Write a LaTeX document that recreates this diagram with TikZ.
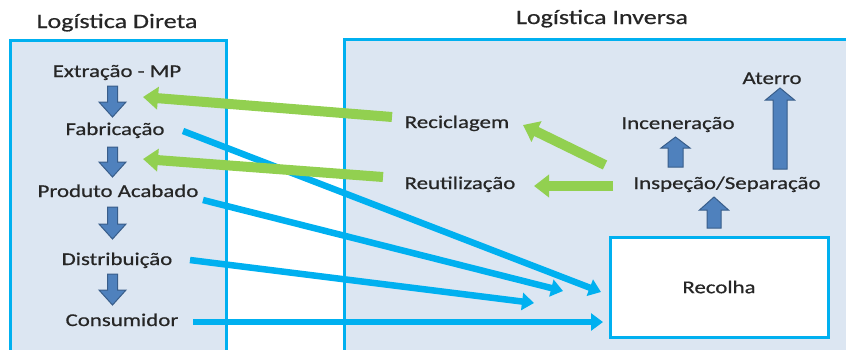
\documentclass[tikz,border=0pt]{standalone}
\usepackage{fontspec}
\newfontfamily\lab{Carlito}[FakeStretch=1.27, FakeBold=0.6]
\usetikzlibrary{arrows.meta}

\definecolor{boxfill}{HTML}{DCE6F2}
\definecolor{cyanline}{HTML}{00B0F0}
\definecolor{greenline}{HTML}{92D050}
\definecolor{blkfill}{HTML}{4F81BD}
\definecolor{blkdraw}{HTML}{385D8A}
\definecolor{txt}{HTML}{262626}

% block arrow pointing down: x, top, bottom
\newcommand\downblk[3]{\draw[blk] ({#1-5},#2) -- ({#1+5},#2) -- ({#1+5},{#3-15}) -- ({#1+13.5},{#3-15}) -- (#1,#3) -- ({#1-13.5},{#3-15}) -- ({#1-5},{#3-15}) -- cycle;}
% block arrow pointing up: x, bottom, top, shaft half width, head length
\newcommand\upblk[5]{\draw[blk] ({#1-#4},#2) -- ({#1+#4},#2) -- ({#1+#4},{#3+#5}) -- ({#1+14.5},{#3+#5}) -- (#1,#3) -- ({#1-14.5},{#3+#5}) -- ({#1-#4},{#3+#5}) -- cycle;}

\tikzset{
  lbl/.style={font=\lab\fontsize{18}{20}\selectfont, text=txt, inner sep=0pt, anchor=base},
  ttl/.style={font=\lab\fontsize{20.5}{23}\selectfont, text=txt, inner sep=0pt, anchor=base},
  panel/.style={draw=cyanline, fill=boxfill, line width=3pt},
  blk/.style={fill=blkfill, draw=blkdraw, line width=1pt, line join=miter},
  cyanarr/.style={draw=cyanline, line width=6.5pt, -{Triangle[length=12pt,width=17pt]}},
  greenarr/.style={draw=greenline, line width=10pt, -{Triangle[length=15pt,width=22pt]}},
}

\begin{document}
\begin{tikzpicture}[x=1pt, y=-1pt]
\useasboundingbox (0,0) rectangle (846,349);
\clip (0,0) rectangle (846,349);

% panels
\draw[panel] (10,40) rectangle (226,370);
\draw[panel] (344,39) rectangle (870,370);

% titles
\node[ttl] (tdir) at (117,28) {Logística Direta};
\node[ttl] (tinv) at (602,24) {Logística Inversa};

% forward chain
\node[lbl] (ext) at (117,77) {Extração - MP};
\node[lbl] (fab) at (115,135) {Fabricação};
\node[lbl] (pro) at (118,197) {Produto Acabado};
\node[lbl] (dis) at (117,265) {Distribuição};
\node[lbl] (con) at (122,326) {Consumidor};

\downblk{112.5}{86}{117}
\downblk{112.5}{147}{177}
\downblk{112.5}{207}{239}
\downblk{112.5}{274}{305}

% reverse chain
\node[lbl] (rec) at (457,128) {Reciclagem};
\node[lbl] (reu) at (460,189) {Reutilização};
\node[lbl] (ins) at (727,189) {Inspeção/Separação};
\node[lbl] (inc) at (678,129) {Inceneração};
\node[lbl] (ate) at (772,84) {Aterro};
\node[draw=cyanline, line width=3pt, fill=white, minimum width=218pt, minimum height=100pt,
      font=\lab\fontsize{18}{20}\selectfont, text=txt] (col) at (719,287) {Recolha};

\upblk{675.5}{167}{137}{7.5}{11}
\upblk{780}{169}{88}{7}{12}
\upblk{714}{228}{197}{7}{13}

% connector end points
\coordinate (fabout) at (183,131);
\coordinate (proout) at (203,200);
\coordinate (disout) at (190,260);
\coordinate (conout) at (193,322);
\coordinate (colin1) at (601,292);
\coordinate (colin2) at (563,291);
\coordinate (colin3) at (534,303);
\coordinate (colin4) at (603,322);

\coordinate (recout) at (392,117);
\coordinate (reuout) at (383,177);
\coordinate (extin) at (143,97);
\coordinate (fabin) at (143,159);
\coordinate (insout1) at (605,165);
\coordinate (insout2) at (613,186);
\coordinate (recin) at (523,125);
\coordinate (reuin) at (534,186);

% flows into collection
\draw[cyanarr] (fabout) -- (colin1);
\draw[cyanarr] (proout) -- (colin2);
\draw[cyanarr] (disout) -- (colin3);
\draw[cyanarr] (conout) -- (colin4);

% recovered flows
\draw[greenarr] (recout) -- (extin);
\draw[greenarr] (reuout) -- (fabin);
\draw[greenarr] (insout1) -- (recin);
\draw[greenarr] (insout2) -- (reuin);
\end{tikzpicture}
\end{document}
